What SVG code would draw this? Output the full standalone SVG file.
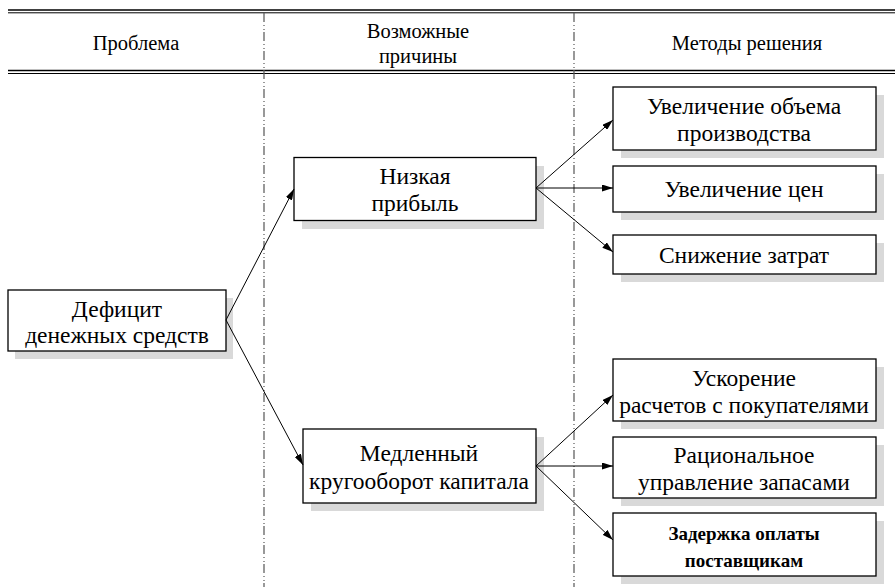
<svg xmlns="http://www.w3.org/2000/svg" width="895" height="587" viewBox="0 0 895 587">
<defs>
<marker id="ah" viewBox="0 0 11 7" refX="11" refY="3.5" markerWidth="11" markerHeight="7" markerUnits="userSpaceOnUse" orient="auto">
<path d="M0,0 L11,3.5 L0,7 Z" fill="#000"/>
</marker>
</defs>
<style>
.box{fill:#fff;stroke:#000;stroke-width:1.3}
.sh{fill:#d9d9d9}
.t{font-family:"Liberation Serif","Times New Roman",serif;font-size:23.5px;fill:#000;text-anchor:middle}
.h{font-family:"Liberation Serif","Times New Roman",serif;font-size:20.5px;fill:#000;text-anchor:middle}
.b{font-weight:bold;font-size:19px}
.con{stroke:#000;stroke-width:1;fill:none;marker-end:url(#ah)}
.vl{stroke:#555;stroke-width:1.2;stroke-dasharray:9,3,1,3,1,2}
.hl{stroke:#000}
</style>
<g id="header">
<line class="hl" x1="8" y1="10" x2="895" y2="10" stroke-width="1.6"/>
<line class="hl" x1="8" y1="12.8" x2="895" y2="12.8" stroke-width="1"/>
<line class="hl" x1="8" y1="70.5" x2="895" y2="70.5" stroke-width="1.6"/>
<line class="hl" x1="8" y1="73.5" x2="895" y2="73.5" stroke-width="1"/>
<line class="vl" x1="264" y1="13" x2="264" y2="587"/>
<line class="vl" x1="574" y1="13" x2="574" y2="587"/>
<text class="h" x="136" y="50">Проблема</text>
<text class="h" x="418" y="37.5">Возможные</text>
<text class="h" x="418" y="63">причины</text>
<text class="h" x="747" y="50">Методы решения</text>
</g>
<g id="deficit">
<rect class="sh" x="15" y="298" width="218" height="61"/>
<rect class="box" x="8" y="290" width="218" height="61"/>
<text class="t" x="117" y="317">Дефицит</text>
<text class="t" x="117" y="343">денежных средств</text>
</g>
<g id="low-profit">
<rect class="sh" x="302" y="166" width="242" height="63"/>
<rect class="box" x="294" y="157.5" width="242" height="63"/>
<text class="t" x="415" y="183.5">Низкая</text>
<text class="t" x="415" y="211">прибыль</text>
</g>
<g id="slow-turnover">
<rect class="sh" x="311" y="437" width="233" height="74"/>
<rect class="box" x="303" y="429" width="233" height="74"/>
<text class="t" x="419" y="461">Медленный</text>
<text class="t" x="419" y="489">кругооборот капитала</text>
</g>
<g id="m1">
<rect class="sh" x="621" y="95" width="263" height="63"/>
<rect class="box" x="613" y="87" width="263" height="63"/>
<text class="t" x="744" y="114">Увеличение объема</text>
<text class="t" x="744" y="141">производства</text>
</g>
<g id="m2">
<rect class="sh" x="621" y="174" width="263" height="46"/>
<rect class="box" x="613" y="166" width="263" height="46"/>
<text class="t" x="744" y="197">Увеличение цен</text>
</g>
<g id="m3">
<rect class="sh" x="621" y="243" width="263" height="39"/>
<rect class="box" x="613" y="235" width="263" height="39"/>
<text class="t" x="744" y="262.5">Снижение затрат</text>
</g>
<g id="m4">
<rect class="sh" x="621" y="367" width="263" height="62"/>
<rect class="box" x="613" y="359" width="263" height="62"/>
<text class="t" x="744" y="385.5">Ускорение</text>
<text class="t" x="744" y="412.5">расчетов с покупателями</text>
</g>
<g id="m5">
<rect class="sh" x="621" y="445" width="263" height="61"/>
<rect class="box" x="613" y="437" width="263" height="61"/>
<text class="t" x="744" y="463">Рациональное</text>
<text class="t" x="744" y="490">управление запасами</text>
</g>
<g id="m6">
<rect class="sh" x="621" y="521" width="263" height="63"/>
<rect class="box" x="613" y="513" width="263" height="63"/>
<text class="t b" x="744" y="540">Задержка оплаты</text>
<text class="t b" x="744" y="567">поставщикам</text>
</g>
<g id="connectors">
<line class="con" x1="226" y1="320" x2="294" y2="189"/>
<line class="con" x1="226" y1="320" x2="303" y2="465"/>
<line class="con" x1="536" y1="188" x2="613" y2="120"/>
<line class="con" x1="536" y1="188" x2="613" y2="188"/>
<line class="con" x1="536" y1="188" x2="613" y2="252"/>
<line class="con" x1="536" y1="466" x2="613" y2="395"/>
<line class="con" x1="536" y1="466" x2="613" y2="466"/>
<line class="con" x1="536" y1="466" x2="613" y2="540"/>
</g>
</svg>
